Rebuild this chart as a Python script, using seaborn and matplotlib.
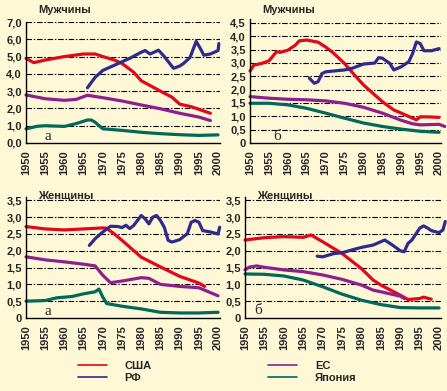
import numpy as np
import pandas as pd
import matplotlib
matplotlib.use("Agg")
import matplotlib.pyplot as plt
import seaborn as sns
from matplotlib.lines import Line2D
from matplotlib.ticker import FixedLocator, FixedFormatter

sns.set_style("white")
plt.rcParams['font.family'] = ['Liberation Sans', 'DejaVu Sans']

# ---------------- data ----------------
series_names = ["США", "РФ", "ЕС", "Япония"]
years_ticks = list(range(1950, 2001, 5))

# Мужчины, а
ma_usa_x = [1950, 1952, 1955, 1960, 1965, 1968, 1970, 1973, 1975, 1978, 1980, 1985, 1988, 1990, 1993, 1995, 1998]
ma_usa_y = [4.9, 4.65, 4.8, 5.0, 5.15, 5.15, 5.0, 4.8, 4.6, 4.1, 3.6, 3.0, 2.65, 2.25, 2.1, 1.95, 1.72]
ma_rf_x = [1966, 1968, 1970, 1973, 1975, 1977, 1980, 1981, 1982.3, 1984.5, 1986, 1988.4, 1990, 1991, 1992.7, 1994.3, 1995.3, 1996.3, 1998, 2000, 2000.2]
ma_rf_y = [3.2, 3.8, 4.2, 4.5, 4.7, 4.9, 5.25, 5.35, 5.15, 5.37, 5.0, 4.32, 4.45, 4.6, 4.95, 5.88, 5.5, 5.08, 5.15, 5.35, 5.75]
ma_eu_x = [1950, 1955, 1960, 1963, 1966, 1970, 1975, 1980, 1985, 1990, 1995, 1998]
ma_eu_y = [2.78, 2.56, 2.47, 2.52, 2.76, 2.62, 2.43, 2.2, 1.98, 1.72, 1.5, 1.3]
ma_jp_x = [1950, 1953, 1955, 1960, 1963, 1966, 1967, 1968, 1970, 1975, 1980, 1985, 1990, 1995, 2000]
ma_jp_y = [0.82, 0.97, 1.0, 0.96, 1.12, 1.33, 1.33, 1.2, 0.82, 0.73, 0.62, 0.54, 0.48, 0.44, 0.47]

# Мужчины, б
mb_usa_x = [1950, 1951, 1953, 1955, 1957, 1958, 1960, 1962, 1963, 1965, 1968, 1970, 1972, 1975, 1978, 1980, 1983, 1985, 1988, 1990, 1993, 1994, 1995, 1997, 2000]
mb_usa_y = [2.7, 2.92, 2.98, 3.08, 3.42, 3.4, 3.48, 3.67, 3.83, 3.86, 3.78, 3.6, 3.38, 2.98, 2.49, 2.18, 1.8, 1.55, 1.24, 1.12, 0.93, 0.87, 0.98, 0.98, 0.96]
mb_rf_x = [1965.7, 1967, 1968, 1969, 1970, 1975, 1977, 1980, 1983, 1984, 1985, 1987, 1988, 1990, 1992, 1993, 1994, 1995, 1996, 1998, 2000]
mb_rf_y = [2.43, 2.24, 2.3, 2.6, 2.67, 2.74, 2.8, 2.96, 3.0, 3.2, 3.18, 2.98, 2.74, 2.86, 3.05, 3.36, 3.79, 3.73, 3.46, 3.46, 3.54]
mb_eu_x = [1950, 1955, 1960, 1965, 1970, 1975, 1980, 1985, 1990, 1993, 1995, 2000, 2001.5]
mb_eu_y = [1.74, 1.68, 1.64, 1.62, 1.58, 1.49, 1.34, 1.12, 0.85, 0.72, 0.68, 0.7, 0.62]
mb_jp_x = [1950, 1955, 1960, 1965, 1970, 1975, 1980, 1985, 1990, 1995, 2000]
mb_jp_y = [1.49, 1.49, 1.43, 1.3, 1.12, 0.93, 0.75, 0.62, 0.52, 0.44, 0.4]

# Женщины, а
wa_usa_x = [1950, 1955, 1960, 1965, 1970, 1971, 1973, 1975, 1980, 1985, 1990, 1995, 1996.5]
wa_usa_y = [2.72, 2.65, 2.62, 2.65, 2.68, 2.67, 2.5, 2.31, 1.81, 1.52, 1.24, 1.04, 0.94]
wa_rf_x = [1966.5, 1968, 1970, 1972, 1974, 1975, 1976, 1977, 1978, 1980, 1981, 1982, 1983, 1984, 1985, 1986, 1987, 1988, 1990, 1992, 1993, 1994, 1995, 1996, 1998, 2000, 2000.4]
wa_rf_y = [2.16, 2.36, 2.56, 2.73, 2.72, 2.69, 2.76, 2.66, 2.75, 3.05, 2.95, 2.8, 3.0, 3.05, 2.9, 2.7, 2.31, 2.26, 2.33, 2.51, 2.85, 2.9, 2.85, 2.6, 2.56, 2.5, 2.7]
wa_eu_x = [1950, 1955, 1960, 1965, 1968, 1970, 1972, 1975, 1980, 1982, 1985, 1990, 1995, 2000]
wa_eu_y = [1.82, 1.73, 1.67, 1.6, 1.55, 1.27, 1.05, 1.1, 1.2, 1.18, 1.0, 0.94, 0.9, 0.66]
wa_jp_x = [1950, 1955, 1958, 1962, 1965, 1968, 1969, 1970, 1971, 1975, 1980, 1985, 1990, 1995, 2000]
wa_jp_y = [0.5, 0.52, 0.6, 0.64, 0.72, 0.78, 0.86, 0.62, 0.43, 0.35, 0.27, 0.17, 0.15, 0.15, 0.17]

# Женщины, б
wb_usa_x = [1950, 1955, 1960, 1965, 1967, 1970, 1975, 1980, 1983, 1985, 1990, 1992, 1995, 1996, 1998]
wb_usa_y = [2.32, 2.39, 2.42, 2.4, 2.47, 2.27, 1.92, 1.47, 1.13, 0.98, 0.68, 0.55, 0.58, 0.62, 0.56]
wb_rf_x = [1968.6, 1970, 1973, 1975, 1978, 1980, 1983, 1986, 1988, 1990, 1991, 1992, 1993, 1995, 1996, 1997, 1998, 2000, 2001, 2001.6]
wb_rf_y = [1.84, 1.82, 1.92, 1.94, 2.04, 2.1, 2.17, 2.32, 2.17, 2.0, 1.97, 2.22, 2.32, 2.67, 2.74, 2.68, 2.6, 2.54, 2.62, 2.87]
wb_eu_x = [1950, 1951, 1953, 1955, 1960, 1965, 1970, 1975, 1980, 1983, 1985, 1990, 1991]
wb_eu_y = [1.43, 1.51, 1.55, 1.51, 1.43, 1.38, 1.28, 1.15, 0.98, 0.83, 0.78, 0.65, 0.58]
wb_jp_x = [1950, 1955, 1960, 1965, 1970, 1975, 1980, 1985, 1990, 1995, 2000]
wb_jp_y = [1.31, 1.3, 1.25, 1.13, 0.93, 0.71, 0.53, 0.4, 0.31, 0.3, 0.3]

ma_ticks = [0, 1, 2, 3, 4, 5, 6, 7]
ma_tick_labels = ["0,0", "1,0", "2,0", "3,0", "4,0", "5,0", "6,0", "7,0"]
mb_ticks = [0, 0.5, 1, 1.5, 2, 2.5, 3, 3.5, 4, 4.5]
mb_tick_labels = ["0", "0,5", "1,0", "1,5", "2,0", "2,5", "3,0", "3,5", "4,0", "4,5"]
w_ticks = [0, 0.5, 1, 1.5, 2, 2.5, 3, 3.5]
w_tick_labels = ["0", "0,5", "1,0", "1,5", "2,0", "2,5", "3,0", "3,5"]

# ---------------- style ----------------
BG = "#FFF8D6"
palette = {"США": "#E3071B", "РФ": "#2E2A8E", "ЕС": "#8E1F8E", "Япония": "#00695B"}
W, H = 447, 391

fig = plt.figure(figsize=(W / 100, H / 100), dpi=100)
fig.patch.set_facecolor(BG)


def make_df(parts):
    frames = []
    for name, xs, ys in parts:
        frames.append(pd.DataFrame({"year": xs, "value": ys, "series": name}))
    return pd.concat(frames, ignore_index=True)


def panel(rect_px, parts, ylim, ticks, tick_labels, title, letter, letter_pos, xlim=(1950, 2000.5)):
    l, t, r, b = rect_px
    ax = fig.add_axes([l / W, 1 - b / H, (r - l) / W, (b - t) / H])
    ax.set_facecolor(BG)
    df = make_df(parts)
    sns.lineplot(data=df, x="year", y="value", hue="series", units="series",
                 estimator=None, sort=False, palette=palette, legend=False,
                 linewidth=2.3, ax=ax)
    for ln in ax.lines:
        ln.set_clip_on(False)
        ln.set_solid_capstyle("round")
        ln.set_solid_joinstyle("round")
    ax.set_xlim(*xlim)
    ax.set_ylim(*ylim)
    for tv in ticks[1:]:
        ax.axhline(tv, color="black", lw=0.8, ls=(0, (5, 1.6, 1.3, 1.6)), zorder=0)
    ax.yaxis.set_major_locator(FixedLocator(ticks))
    ax.yaxis.set_major_formatter(FixedFormatter(tick_labels))
    ax.set_xticks(years_ticks)
    ax.set_xticklabels([str(y) for y in years_ticks], rotation=90)
    ax.tick_params(axis="both", length=0, labelsize=8)
    ax.tick_params(axis="y", pad=3)
    ax.tick_params(axis="x", pad=5)
    for lab in ax.get_xticklabels() + ax.get_yticklabels():
        lab.set_fontweight("bold")
    for s in ["top", "right"]:
        ax.spines[s].set_visible(False)
    for s in ["left", "bottom"]:
        ax.spines[s].set_color("black")
        ax.spines[s].set_linewidth(1.0)
    ax.set_xlabel("")
    ax.set_ylabel("")
    ax.grid(False)
    ax.text(letter_pos[0], letter_pos[1], letter, family=["Liberation Serif", "DejaVu Serif"],
            fontsize=11, ha="center", va="center")
    fig.text((l + 12) / W, 1 - 10 / H if t < 100 else 1 - 196 / H, title,
             fontsize=8, fontweight="bold", ha="left", va="center")
    return ax


panel((26, 22, 220, 143),
      [("США", ma_usa_x, ma_usa_y), ("РФ", ma_rf_x, ma_rf_y),
       ("ЕС", ma_eu_x, ma_eu_y), ("Япония", ma_jp_x, ma_jp_y)],
      (0, 7.0), ma_ticks, ma_tick_labels, "Мужчины", "а", (1955.7, 0.35))
panel((250, 19, 441, 143),
      [("США", mb_usa_x, mb_usa_y), ("РФ", mb_rf_x, mb_rf_y),
       ("ЕС", mb_eu_x, mb_eu_y), ("Япония", mb_jp_x, mb_jp_y)],
      (0, 4.65), mb_ticks, mb_tick_labels, "Мужчины", "б", (1957.1, 0.24))
panel((26, 197, 220, 318),
      [("США", wa_usa_x, wa_usa_y), ("РФ", wa_rf_x, wa_rf_y),
       ("ЕС", wa_eu_x, wa_eu_y), ("Япония", wa_jp_x, wa_jp_y)],
      (0, 3.6), w_ticks, w_tick_labels, "Женщины", "а", (1955.7, 0.19))
panel((245, 197, 441, 318),
      [("США", wb_usa_x, wb_usa_y), ("РФ", wb_rf_x, wb_rf_y),
       ("ЕС", wb_eu_x, wb_eu_y), ("Япония", wb_jp_x, wb_jp_y)],
      (0, 3.6), w_ticks, w_tick_labels, "Женщины", "б", (1953.5, 0.22))

handles = [Line2D([0], [0], color=palette[n], lw=1.2) for n in series_names]
leg = fig.legend(handles, series_names, loc="upper left", ncol=2,
                 bbox_to_anchor=(78 / W, 1 - 361 / H), frameon=False,
                 handlelength=2.6, handletextpad=1.6, columnspacing=10.5,
                 labelspacing=0.2, borderpad=0, borderaxespad=0,
                 prop={"size": 8, "weight": "bold"})

fig.savefig("out.png", dpi=100, facecolor=BG)
